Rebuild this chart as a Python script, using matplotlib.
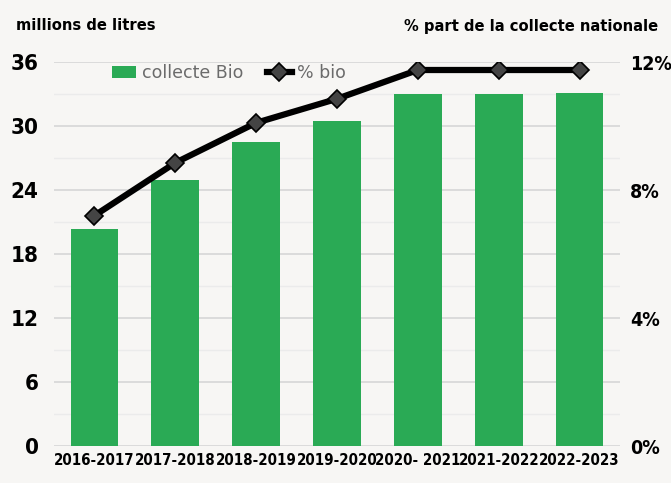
import matplotlib
matplotlib.use("Agg")
import matplotlib.pyplot as plt
from matplotlib import font_manager as fm
from matplotlib.ticker import MultipleLocator, FuncFormatter
import numpy as np

# Data
campagnes = ['2016-2017', '2017-2018', '2018-2019', '2019-2020', '2020- 2021', '2021-2022', '2022-2023']
collecte_bio = [20.3, 24.9, 28.5, 30.5, 33.0, 33.0, 33.1]   # millions de litres
part_bio = [7.2, 8.85, 10.1, 10.85, 11.75, 11.75, 11.75]    # % de la collecte nationale

# look for a narrow font, else plain DejaVu Sans
cond = None
for fam, st in [('Liberation Sans Narrow', 'normal'), ('DejaVu Sans', 'condensed'),
                ('Roboto Condensed', 'normal'), ('Open Sans Condensed', 'normal'),
                ('Open Sans', 'condensed'), ('Noto Sans', 'condensed')]:
    try:
        p = fm.findfont(fm.FontProperties(family=fam, stretch=st, weight='bold'),
                        fallback_to_default=False)
    except ValueError:
        continue
    if 'narrow' in p.lower() or 'condensed' in p.lower():
        cond = (fam, st, p)
        break

if cond:
    FAM, STRETCH = cond[0], cond[1]
    s_tick, s_right, s_x, s_title = 16, 14, 10.8, 11.8
else:
    FAM, STRETCH = 'DejaVu Sans', 'normal'
    s_tick, s_right, s_x, s_title = 13, 11, 9, 10

bg = '#f7f6f4'
green = '#2aaa55'

fig = plt.figure(figsize=(6.71, 4.83), dpi=100, facecolor=bg)
ax = fig.add_axes([54/671, 1-446/483, 566/671, 384/483])
ax.set_facecolor(bg)

x = np.arange(len(campagnes))
bars = ax.bar(x, collecte_bio, width=0.59, color=green, zorder=3, label='collecte Bio')
ax.set_xlim(-0.5, len(campagnes)-0.5)
ax.set_ylim(0, 36)
ax.yaxis.set_major_locator(MultipleLocator(6))
ax.yaxis.set_minor_locator(MultipleLocator(3))
ax.grid(axis='y', which='major', color='#d9d9d9', lw=1.3, zorder=0)
ax.grid(axis='y', which='minor', color='#ebebeb', lw=1.0, zorder=0)
for s in ax.spines.values():
    s.set_visible(False)
ax.tick_params(which='both', length=0)
ax.set_xticks(x)
ax.set_xticklabels(campagnes)
ax.tick_params(axis='x', pad=5)
ax.tick_params(axis='y', pad=11)
for t in ax.get_xticklabels():
    t.set_fontsize(s_x)
    t.set_fontfamily(FAM)
    t.set_fontstretch(STRETCH)
    t.set_fontweight('bold')
for t in ax.get_yticklabels():
    t.set_fontsize(s_tick)
    t.set_fontfamily(FAM)
    t.set_fontstretch(STRETCH)
    t.set_fontweight('bold')

ax2 = ax.twinx()
line, = ax2.plot(x, part_bio, color='black', lw=4.5, marker='D', markersize=9,
                 markerfacecolor='#444444', markeredgecolor='black', markeredgewidth=1.2,
                 zorder=4, label='% bio')
ax2.set_ylim(0, 12)
ax2.yaxis.set_major_locator(MultipleLocator(4))
ax2.yaxis.set_major_formatter(FuncFormatter(lambda v, p: f'{v:.0f}%'))
for s in ax2.spines.values():
    s.set_visible(False)
ax2.tick_params(length=0, pad=7)
for t in ax2.get_yticklabels():
    t.set_fontsize(s_right)
    t.set_fontfamily(FAM)
    t.set_fontstretch(STRETCH)
    t.set_fontweight('bold')

leg = ax.legend([bars, line], ['collecte Bio', '% bio'], loc='upper left',
                bbox_to_anchor=(0.075, 1.035), ncol=2, frameon=False,
                prop={'family': 'DejaVu Sans', 'size': 12.5},
                handlelength=1.4, handletextpad=0.3, columnspacing=1.4)
for t in leg.get_texts():
    t.set_color('#6b6b6b')

fig.text(16/671, 1-26/483, 'millions de litres', fontsize=s_title, fontfamily=FAM,
         fontstretch=STRETCH, fontweight='bold', va='center', ha='left')
fig.text(658/671, 1-26/483, '% part de la collecte nationale', fontsize=s_title,
         fontfamily=FAM, fontstretch=STRETCH, fontweight='bold', va='center', ha='right')

fig.savefig('out.png', dpi=100, facecolor=bg)
